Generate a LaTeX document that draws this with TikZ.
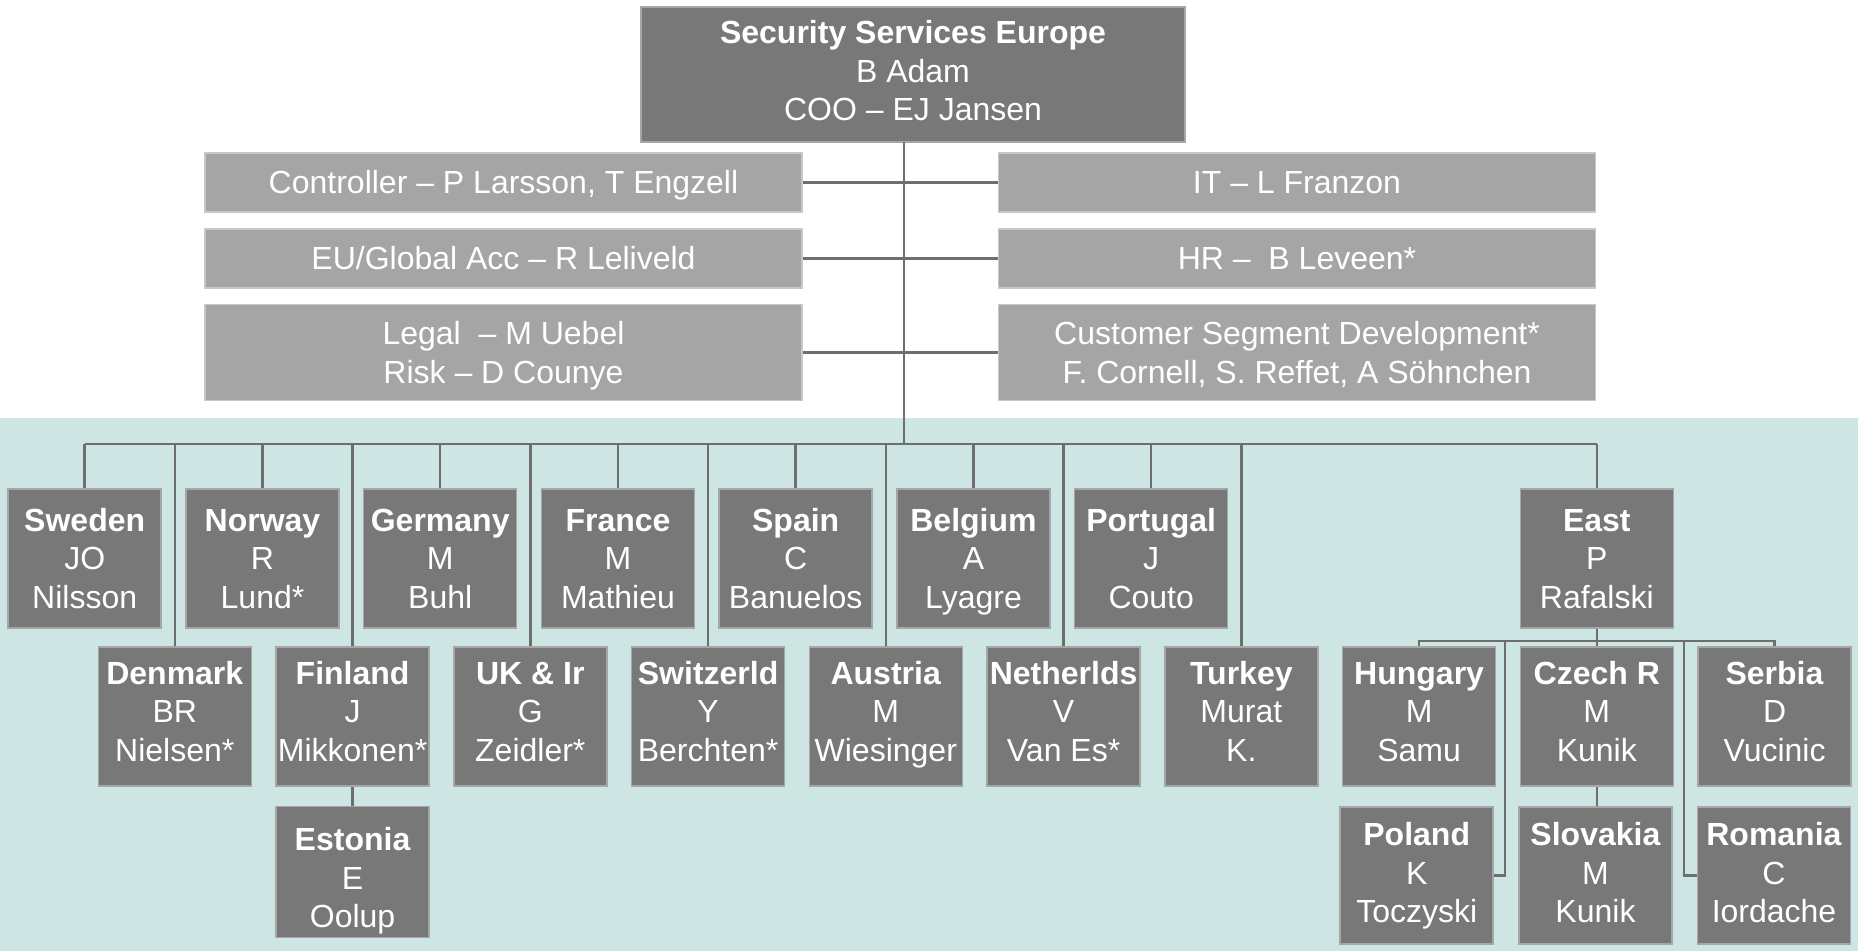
\documentclass[tikz,border=0pt]{standalone}
\usepackage{fontspec}
\setmainfont{Liberation Sans}
\definecolor{boxdark}{RGB}{120,120,120}
\definecolor{boxedge}{RGB}{166,166,166}
\definecolor{staffgray}{RGB}{165,165,165}
\definecolor{staffedge}{RGB}{200,200,200}
\definecolor{regionbg}{RGB}{205,230,227}
\definecolor{linegray}{RGB}{110,110,110}
% line strut, taller and shallower than the default one
\newcommand\lstrut{\rule[-8pt]{0pt}{38.5pt}}
% three-line unit label: bold name, then the two name lines
\newcommand\unitlines[3]{\lstrut\textbf{#1}\\\lstrut#2\\\lstrut#3}
% same label, set lower (taller first line) or higher (deeper last line) by #1/2
\newcommand\unitdown[4]{\rule[-8pt]{0pt}{\dimexpr38.5pt+#1\relax}\textbf{#2}\\\lstrut#3\\\lstrut#4}
\newcommand\unitup[4]{\lstrut\textbf{#2}\\\lstrut#3\\\rule[\dimexpr-8pt-#1\relax]{0pt}{38.5pt}#4}
\newcommand\headlines[3]{\strut\textbf{#1}\\\strut#2\\\strut#3}
\begin{document}
\begin{tikzpicture}[x=1pt,y=-1pt,
  boxtext/.style={text=white, align=center, inner sep=0pt,
    font=\fontsize{32}{38.5}\selectfont},
  headbox/.style={boxtext, fill=boxdark, draw=boxedge, line width=1.5pt,
    minimum width=544pt, minimum height=135pt},
  staffbox/.style={boxtext, fill=staffgray, draw=staffedge, line width=1.5pt,
    minimum width=597pt},
  unitbox/.style={boxtext, fill=boxdark, draw=boxedge, line width=1.5pt,
    minimum width=153pt, minimum height=139pt},
  link/.style={draw=linegray, line width=2.5pt}]

\useasboundingbox (0,0) rectangle (1858,951);
% shaded band behind the country organisations
\fill[regionbg] (0,418) rectangle (1858,951);

% head of the organisation
\node[headbox] (top) at (913,74.5) {\headlines{Security Services Europe}{B Adam}{COO – EJ Jansen}};

% staff functions
\node[staffbox, minimum height=59pt] (ctrl)  at (503.5,182.5) {\lstrut Controller – P Larsson, T Engzell};
\node[staffbox, minimum height=59pt] (acc)   at (503.5,258.4) {\lstrut EU/Global Acc – R Leliveld};
\node[staffbox, minimum height=96pt] (legal) at (503.5,352.5) {\lstrut Legal~~– M Uebel\\\lstrut Risk – D Counye};
\node[staffbox, minimum height=59pt] (it)    at (1297,182.5) {\lstrut IT – L Franzon};
\node[staffbox, minimum height=59pt] (hr)    at (1297,258.4) {\lstrut HR –~~B Leveen*};
\node[staffbox, minimum height=96pt] (csd)   at (1297,352.5) {\lstrut Customer Segment Development*\\\lstrut F. Cornell, S. Reffet, A Söhnchen};

% countries, first row
\node[unitbox] (sweden)   at (84.7,558.5)   {\unitlines{Sweden}{JO}{Nilsson}};
\node[unitbox] (norway)   at (262.5,558.5)  {\unitlines{Norway}{R}{Lund*}};
\node[unitbox] (germany)  at (440.2,558.5)  {\unitlines{Germany}{M}{Buhl}};
\node[unitbox] (france)   at (618,558.5)    {\unitlines{France}{M}{Mathieu}};
\node[unitbox] (spain)    at (795.7,558.5)  {\unitlines{Spain}{C}{Banuelos}};
\node[unitbox] (belgium)  at (973.5,558.5)  {\unitlines{Belgium}{A}{Lyagre}};
\node[unitbox] (portugal) at (1151.2,558.5) {\unitlines{Portugal}{J}{Couto}};
\node[unitbox] (east)     at (1596.8,558.5) {\unitlines{East}{P}{Rafalski}};

% countries, second row
\node[unitbox] (denmark) at (174.8,716.4)  {\unitup{9.4pt}{Denmark}{BR}{Nielsen*}};
\node[unitbox] (finland) at (352.6,716.4)  {\unitup{9.4pt}{Finland}{J}{Mikkonen*}};
\node[unitbox] (uk)      at (530.3,716.4)  {\unitup{9.4pt}{UK \& Ir}{G}{Zeidler*}};
\node[unitbox] (swiss)   at (708.1,716.4)  {\unitup{9.4pt}{Switzerld}{Y}{Berchten*}};
\node[unitbox] (austria) at (885.8,716.4)  {\unitup{9.4pt}{Austria}{M}{Wiesinger}};
\node[unitbox] (nl)      at (1063.6,716.4) {\unitup{9.4pt}{Netherlds}{V}{Van Es*}};
\node[unitbox] (turkey)  at (1241.3,716.4) {\unitup{9.4pt}{Turkey}{Murat}{K.}};
\node[unitbox] (hungary) at (1419.1,716.4) {\unitup{9.4pt}{Hungary}{M}{Samu}};
\node[unitbox] (czech)   at (1596.8,716.4) {\unitup{9.4pt}{Czech R}{M}{Kunik}};
\node[unitbox] (serbia)  at (1774.6,716.4) {\unitup{9.4pt}{Serbia}{D}{Vucinic}};

% third row
\node[unitbox, minimum height=131pt] (estonia)  at (352.6,872)    {\unitdown{12pt}{Estonia}{E}{Oolup}};
\node[unitbox, minimum height=137pt] (poland)   at (1416.7,875.5) {\unitup{4.7pt}{Poland}{K}{Toczyski}};
\node[unitbox, minimum height=137pt] (slovakia) at (1595.5,875.5) {\unitup{4.7pt}{Slovakia}{M}{Kunik}};
\node[unitbox, minimum height=137pt] (romania)  at (1774,875.5)   {\unitup{4.7pt}{Romania}{C}{Iordache}};

% connector junctions
\coordinate (trunk) at (904,142);
\coordinate (bus) at (904,444);
\coordinate (eb) at (1596.8,641);
\coordinate (pl) at (1505,641);
\coordinate (ro) at (1684,641);

% trunk and staff links
\draw[link] (trunk) -- (bus);
\foreach \s in {ctrl,acc,legal}{\draw[link] (\s.east) -- (\s.east -| trunk);}
\foreach \s in {it,hr,csd}{\draw[link] (\s.west) -- (\s.west -| trunk);}

% country bus
\draw[link] (sweden.north |- bus) -- (east.north |- bus);
\foreach \c in {sweden,norway,germany,france,spain,belgium,portugal,east,
                denmark,finland,uk,swiss,austria,nl,turkey}{
  \draw[link] (\c.north) -- (\c.north |- bus);}

% sub-units
\draw[link] (finland.south) -- (estonia.north);
\draw[link] (east.south) -- (eb);
\draw[link] (hungary.north) -- (hungary.north |- eb) -- (serbia.north |- eb) -- (serbia.north);
\draw[link] (czech.north) -- (eb);
\draw[link] (czech.south) -- (czech.south |- slovakia.north);
\draw[link] (poland.east) -| (pl);
\draw[link] (romania.west) -| (ro);
\end{tikzpicture}
\end{document}
